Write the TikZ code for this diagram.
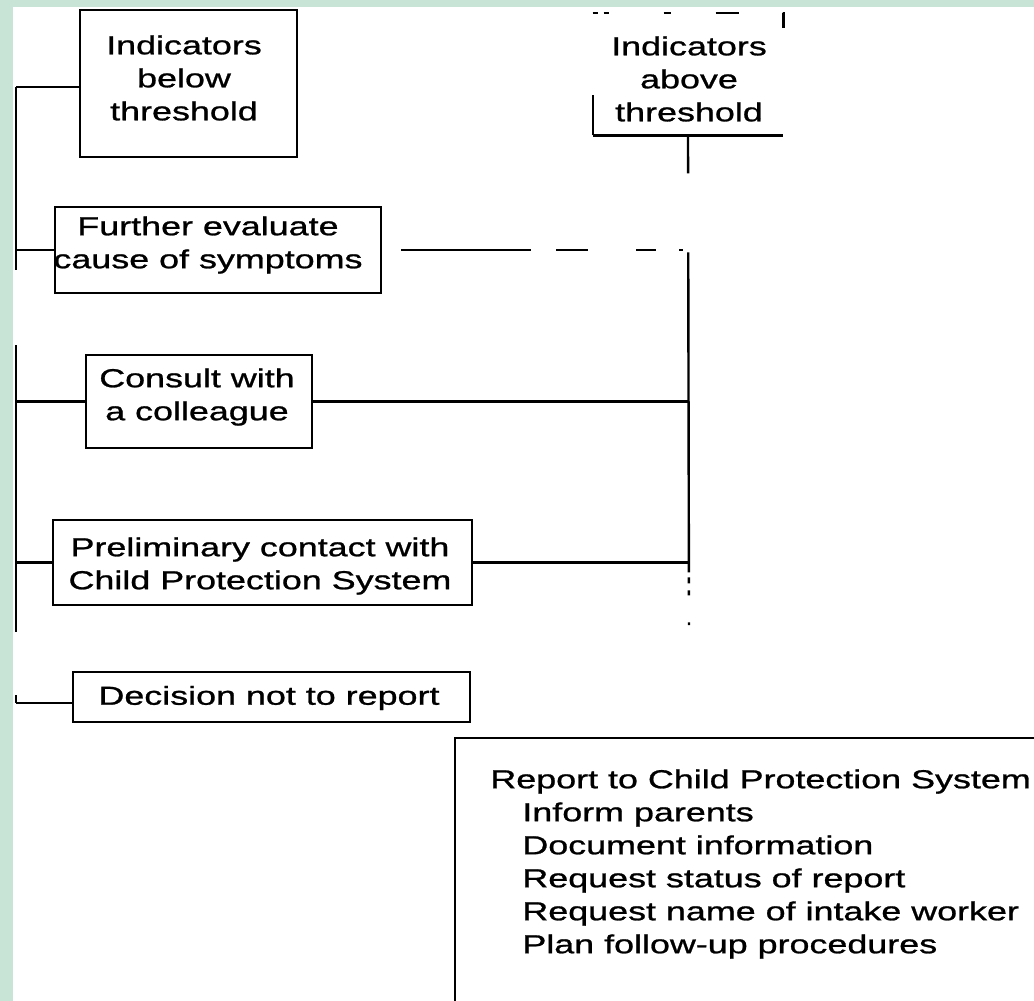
\documentclass[tikz,border=0pt]{standalone}
\usepackage{fontspec}
\newfontfamily\diagfont[FakeStretch=1.38,FakeBold=1]{Liberation Sans}
\usetikzlibrary{fit}
\definecolor{slidegreen}{RGB}{200,228,214}
\tikzset{
	box/.style={draw,line width=1.1pt,inner sep=0pt},
	txt/.style={font=\diagfont\fontsize{13}{16.5}\selectfont,align=center,inner sep=0pt},
	wire/.style={line width=1.2pt}
}

\begin{document}
\begin{tikzpicture}[x=0.5pt,y=-0.5pt]
	\useasboundingbox (0,0) rectangle (1034,1001);
	\clip (0,0) rectangle (1034,1001);
	\fill[slidegreen] (0,0) rectangle (1034,7);
	\fill[slidegreen] (0,0) rectangle (13,1001);

	% boxes
	\node[box,fit={(80,10) (297,157)}]	(below)		{};
	\node[inner sep=0pt,fit={(593,13) (783,135)}]	(above)	{};
	\node[box,fit={(55,207) (381,293)}]	(further)	{};
	\node[box,fit={(86,355) (312,448)}]	(consult)	{};
	\node[box,fit={(53,520) (472,605)}]	(prelim)	{};
	\node[box,fit={(73,672) (470,722)}]	(decision)	{};
	\node[box,fit={(455,738) (1060,1040)}]	(report)	{};

	\node[txt] (below-t)	at (184,78)	{Indicators\\below\\threshold};
	\node[txt] (above-t)	at (689,79)	{Indicators\\above\\threshold};
	\node[txt] (further-t)	at (208,245)	{Further evaluate\\cause of symptoms};
	\node[txt] (consult-t)	at (197,397)	{Consult with\\a colleague};
	\node[txt] (prelim-t)	at (260,566)	{Preliminary contact with\\Child Protection System};
	\node[txt] (decision-t)	at (269,698)	{Decision not to report};
	\node[txt,align=left,anchor=north west] (report-t) at (490,769)
		{Report to Child Protection System\\
		\hspace*{16pt}Inform parents\\
		\hspace*{16pt}Document information\\
		\hspace*{16pt}Request status of report\\
		\hspace*{16pt}Request name of intake worker\\
		\hspace*{16pt}Plan follow-up procedures};

	% what is left of the upper right box
	\draw[box] (above.south west) -- (above.south east);
	\draw[box] (above.south west) -- ++(0,-40);
	\draw[box,dash pattern=on 2.5pt off 3pt on 2.5pt off 27.5pt on 3.5pt off 22.5pt on 11.5pt off 22pt on 8pt off 100pt]
		(above.north west) -- (above.north east) -- ++(0,15);

	% left bus
	\coordinate (ltop) at (16,87);
	\coordinate (lbot) at (16,703);
	\draw[wire,dash pattern=on 91.5pt off 37.5pt on 143.5pt off 31.5pt on 4pt] (ltop) -- (lbot);
	\draw[wire] (ltop) -- (ltop -| below.west);
	\draw[wire] (further.west -| ltop) -- (further.west);
	\draw[wire] (consult.west -| ltop) -- (consult.west);
	\draw[wire] (prelim.west -| ltop) -- (prelim.west);
	\draw[wire] (lbot) -- (lbot -| decision.west);

	% right bus
	\coordinate (rbot) at (689,625);
	\draw[wire,dash pattern=on 19pt off 39.5pt on 160pt off 2.5pt on 3pt off 3.5pt on 2.5pt off 13.5pt on 1.5pt]
		(above.south) -- (rbot);
	\draw[wire,dash pattern=on 0pt off 9.5pt on 65pt off 12.5pt on 16pt off 24pt on 10pt off 11.5pt on 2pt off 10pt]
		(further.east) -- (further.east -| rbot);
	\draw[wire] (consult.east) -- (consult.east -| rbot);
	\draw[wire] (prelim.east) -- (prelim.east -| rbot);
\end{tikzpicture}
\end{document}
